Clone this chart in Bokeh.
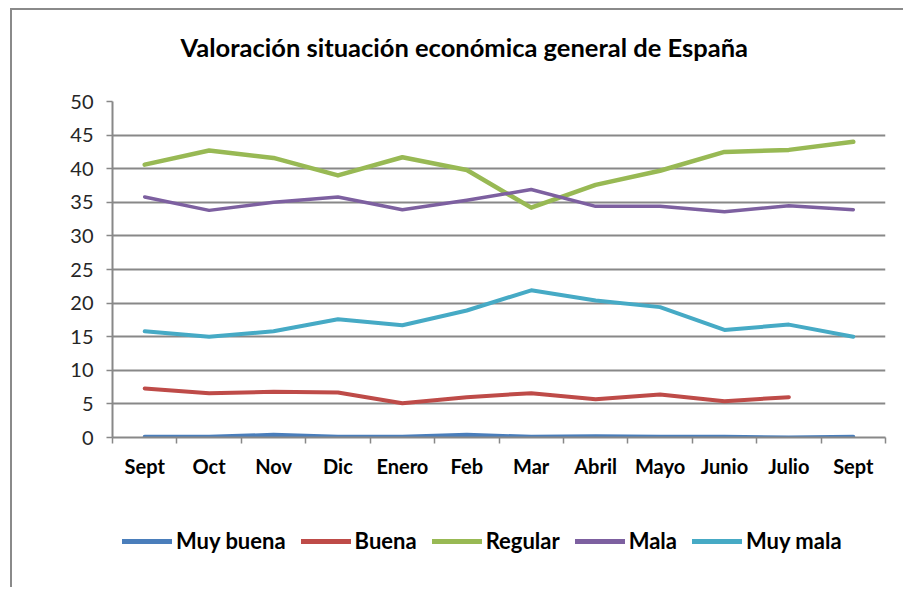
from bokeh.plotting import figure
from bokeh.layouts import column
from bokeh.models import FixedTicker, Legend, LegendItem, Range1d, Label
from bokeh.embed import file_html
from bokeh.resources import INLINE

nan = float("nan")

title_text = "Valoración situación económica general de España"
months = ["Sept", "Oct", "Nov", "Dic", "Enero", "Feb", "Mar", "Abril", "Mayo", "Junio", "Julio", "Sept"]
muy_buena = [0.1, 0.1, 0.4, 0.1, 0.1, 0.4, 0.1, 0.2, 0.1, 0.1, 0.0, 0.1]
buena = [7.3, 6.6, 6.8, 6.7, 5.1, 6.0, 6.6, 5.7, 6.4, 5.4, 6.0, nan]
regular = [40.6, 42.7, 41.6, 39.0, 41.7, 39.8, 34.2, 37.6, 39.7, 42.5, 42.8, 44.0]
mala = [35.8, 33.8, 35.0, 35.8, 33.9, 35.3, 36.9, 34.4, 34.4, 33.6, 34.5, 33.9]
muy_mala = [15.8, 15.0, 15.8, 17.6, 16.7, 18.9, 21.9, 20.4, 19.4, 16.0, 16.8, 15.0]
y_ticks = [0, 5, 10, 15, 20, 25, 30, 35, 40, 45, 50]

series_names = ["Muy buena", "Buena", "Regular", "Mala", "Muy mala"]
series_values = [muy_buena, buena, regular, mala, muy_mala]
colors = ["#4A7EBB", "#BE4B48", "#98B954", "#7D60A0", "#46AAC5"]
widths = [4, 4, 4.5, 3.5, 4]

FONT = "Lato"
GRAY = "#888888"
W = 891


def blank_figure(height):
    f = figure(width=W, height=height, output_backend="svg", toolbar_location=None,
               x_range=Range1d(0, 1), y_range=Range1d(0, 1),
               x_axis_type=None, y_axis_type=None, min_border=0,
               title_location=None)
    f.outline_line_color = None
    f.grid.visible = False
    return f


# ---- title strip
pt = blank_figure(76)
pt.add_layout(Label(x=68, y=40, x_units="screen", y_units="screen", text=title_text,
                    text_font=FONT, text_font_size="25.5px", text_font_style="bold",
                    text_color="#000000", text_align="left", text_baseline="alphabetic"))

# ---- main chart
n = len(months)
xs = [i + 0.5 for i in range(n)]

p = figure(width=W, height=401, output_backend="svg", toolbar_location=None,
           x_range=Range1d(0, n), y_range=Range1d(0, 50),
           min_border_left=100, min_border_right=W - 873, min_border_top=15,
           min_border_bottom=50, title_location=None)
p.outline_line_color = None

p.xgrid.visible = False
p.ygrid.grid_line_color = GRAY
p.ygrid.grid_line_width = 2

p.yaxis.ticker = FixedTicker(ticks=y_ticks, minor_ticks=[])
p.yaxis.axis_line_color = GRAY
p.yaxis.axis_line_width = 2
p.yaxis.major_tick_line_color = GRAY
p.yaxis.major_tick_line_width = 1.5
p.yaxis.major_tick_out = 6
p.yaxis.major_tick_in = 0
p.yaxis.major_label_standoff = 13
p.yaxis.major_label_text_font = FONT
p.yaxis.major_label_text_font_size = "20px"
p.yaxis.major_label_text_color = "#262626"

p.xaxis.ticker = FixedTicker(ticks=xs, minor_ticks=list(range(n + 1)))
p.xaxis.major_label_overrides = {x: m for x, m in zip(xs, months)}
p.xaxis.axis_line_color = GRAY
p.xaxis.axis_line_width = 2
p.xaxis.major_tick_out = 0
p.xaxis.major_tick_in = 0
p.xaxis.minor_tick_out = 6
p.xaxis.minor_tick_in = 0
p.xaxis.minor_tick_line_color = GRAY
p.xaxis.minor_tick_line_width = 1.5
p.xaxis.major_label_standoff = 10
p.xaxis.major_label_text_font = FONT
p.xaxis.major_label_text_font_size = "20px"
p.xaxis.major_label_text_font_style = "bold"
p.xaxis.major_label_text_color = "#000000"

for vals, c, w in zip(series_values, colors, widths):
    p.line(xs, vals, line_color=c, line_width=w, line_cap="round", line_join="round")

# ---- legend strip (legend glyphs only; renderers hold no visible data)
pl = blank_figure(100)
items = []
for name, c in zip(series_names, colors):
    r = pl.line(x=[nan], y=[nan], line_color=c, line_width=5, line_cap="round")
    items.append(LegendItem(label=name, renderers=[r]))
legend = Legend(items=items, orientation="horizontal", location=(10, 33),
                glyph_width=50, glyph_height=20, label_standoff=4, spacing=15,
                padding=0, margin=0, border_line_color=None, background_fill_alpha=0,
                label_text_font=FONT, label_text_font_size="22px",
                label_text_font_style="bold", label_text_color="#000000")
pl.add_layout(legend)

layout = column(pt, p, pl, spacing=0,
                styles={"margin-left": "10px", "margin-top": "8px",
                        "border-left": "2px solid #8a8a8a",
                        "border-top": "2px solid #8a8a8a"})

open("out.html", "w").write(file_html(layout, INLINE))
